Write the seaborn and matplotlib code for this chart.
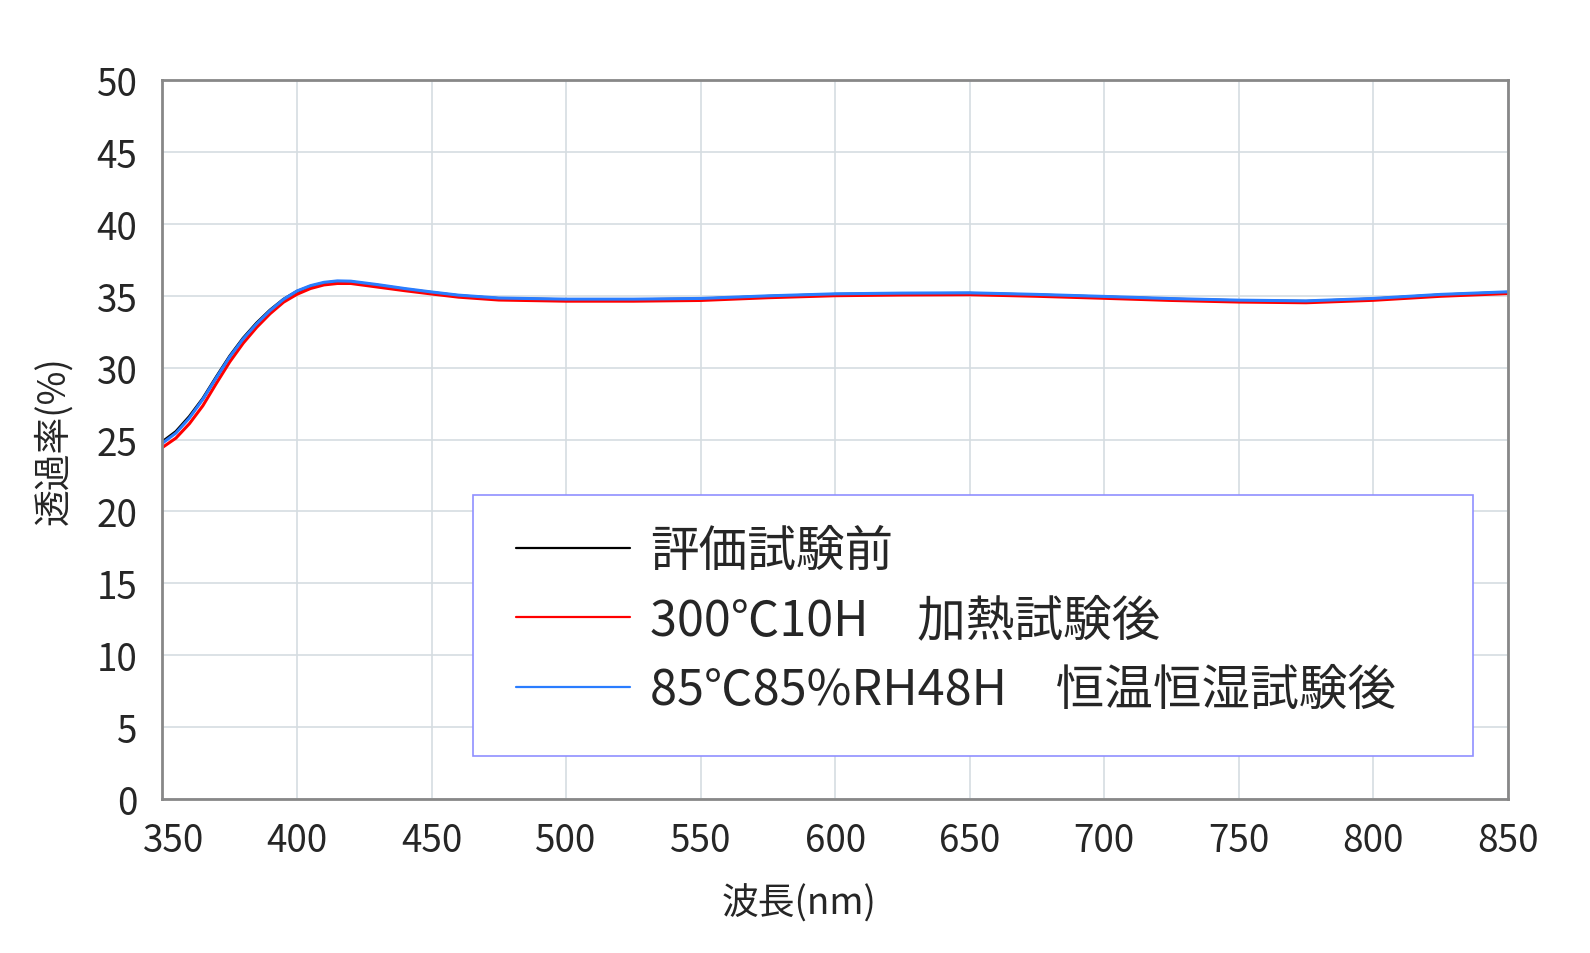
import matplotlib
matplotlib.use('Agg')
import matplotlib.pyplot as plt
import matplotlib.transforms as mtransforms
from matplotlib.patches import Rectangle
import seaborn as sns
import pandas as pd

# wavelength (nm) and transmittance (%)
wavelength = [350, 355, 360, 365, 370, 375, 380, 385, 390, 395, 400, 405, 410, 415, 420,
              430, 440, 450, 460, 475, 500, 525, 550, 575, 600, 625, 650, 675, 700,
              725, 750, 775, 800, 825, 850]
before = [24.85, 25.55, 26.6, 27.85, 29.35, 30.8, 32.05, 33.1, 34.0, 34.75, 35.3, 35.65, 35.88,
          35.98, 35.96, 35.72, 35.45, 35.22, 35.0, 34.8, 34.72, 34.72, 34.77, 34.95, 35.09,
          35.14, 35.16, 35.05, 34.91, 34.76, 34.65, 34.6, 34.77, 35.05, 35.23]
heat = [24.45, 25.1, 26.1, 27.35, 28.9, 30.4, 31.7, 32.8, 33.75, 34.55, 35.1, 35.5, 35.75,
        35.85, 35.85, 35.6, 35.35, 35.12, 34.9, 34.7, 34.62, 34.62, 34.67, 34.86, 35.0,
        35.05, 35.07, 34.96, 34.82, 34.67, 34.56, 34.51, 34.68, 34.96, 35.15]
humid = [24.75, 25.45, 26.5, 27.8, 29.3, 30.75, 32.0, 33.05, 33.97, 34.75, 35.33, 35.7, 35.93,
         36.03, 36.01, 35.77, 35.5, 35.26, 35.04, 34.84, 34.76, 34.76, 34.81, 34.99, 35.13,
         35.18, 35.2, 35.09, 34.95, 34.8, 34.69, 34.64, 34.81, 35.09, 35.27]

labels = ['評価試験前', '300℃10H　加熱試験後', '85℃85%RH48H　恒温恒湿試験後']
colors = ['#000000', '#ff0000', '#2a7dff']

df = pd.concat([
    pd.DataFrame({'wl': wavelength, 't': vals, 's': lab})
    for vals, lab in zip([before, heat, humid], labels)
])

sns.set_style('white')
plt.rcParams['font.family'] = ['Noto Sans CJK JP', 'DejaVu Sans']

fig = plt.figure(figsize=(15.9, 9.54), dpi=100)
ax = fig.add_axes([0.1022, 0.1614, 0.8461, 0.7537])

sns.lineplot(data=df, x='wl', y='t', hue='s', palette=colors, linewidth=2.2, ax=ax)

ax.set_xlim(350, 850)
ax.set_ylim(0, 50)
ax.set_xticks(range(350, 851, 50))
ax.set_yticks(range(0, 51, 5))
ax.grid(True, color='#d5dde1', linewidth=1.2)
ax.tick_params(axis='both', length=0, labelsize=26.5)
ax.tick_params(axis='y', pad=18)
ax.tick_params(axis='x', pad=16)
for sp in ax.spines.values():
    sp.set_color('#888888')
    sp.set_linewidth(2)

# first x label sits a little right of the axis corner in the original
first = ax.get_xticklabels()[0]
first.set_transform(first.get_transform() +
                    mtransforms.ScaledTranslation(11 / 100, 0, fig.dpi_scale_trans))

ax.set_xlabel('波長(nm)', fontsize=26.5)
ax.xaxis.set_label_coords(0.473, -0.118)
ax.set_ylabel('透過率(%)', fontsize=26.5, labelpad=17)

# legend frame
ax.add_patch(Rectangle((0.2308, 0.0593), 0.7436, 0.363, transform=ax.transAxes,
                       facecolor='white', edgecolor='#9090ff', linewidth=1.2, zorder=4))

leg = ax.legend(loc='upper left', bbox_to_anchor=(0.2624, 0.379),
                fontsize=35, frameon=False, borderpad=0, labelspacing=0.41,
                handlelength=2.36, handletextpad=0.4, borderaxespad=0)
leg.set_zorder(5)
for line in leg.get_lines():
    line.set_linewidth(1.6)

fig.savefig('out.png', dpi=100)
